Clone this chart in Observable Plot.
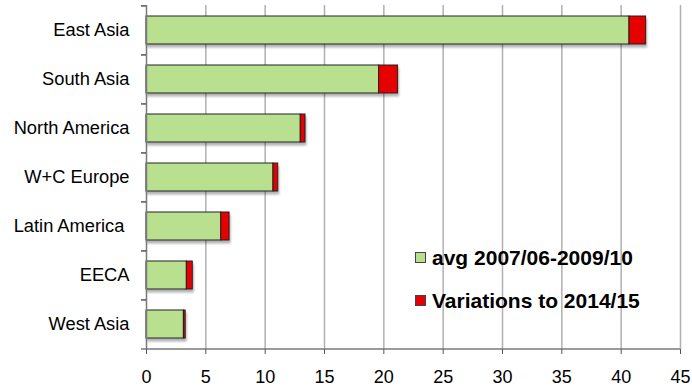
<!DOCTYPE html>
<html>
<head>
<meta charset="utf-8">
<script src="https://cdn.jsdelivr.net/npm/d3@7"></script>
<script src="https://cdn.jsdelivr.net/npm/@observablehq/plot@0.6"></script>
<style>
  body { margin: 0; background: #fff; font-family: "Liberation Sans", Arial, sans-serif; }
  #chart { position: relative; width: 692px; height: 392px; }
  #chart svg { white-space: pre; }
  .legend { position: absolute; left: 415px; top: 236px; font-weight: bold; font-size: 21px; color: #000; }
  .legend .item { display: flex; align-items: center; height: 43px; white-space: nowrap; }
  .legend .sw { width: 9px; height: 9px; border: 1px solid #444; margin-right: 6px; }
</style>
</head>
<body>
<div id="chart"></div>
<script>
// Regions, top to bottom
const regions = ["East Asia", "South Asia", "North America", "W+C Europe", "Latin America ", "EECA", "West Asia"];
// Average 2007/06-2009/10
const avg = [40.7, 19.6, 13.0, 10.7, 6.3, 3.4, 3.15];
// Variation to 2014/15, stacked on the average
const variation = [1.4, 1.6, 0.4, 0.4, 0.7, 0.5, 0.15];
// Series names and colours
const seriesNames = ["avg 2007/06-2009/10", "Variations to 2014/15"];
const seriesColors = ["#b9e08f", "#e60000"];
// X axis ticks
const xTicks = [0, 5, 10, 15, 20, 25, 30, 35, 40, 45];

const table = regions.flatMap((r, i) => [
  {region: r, series: seriesNames[0], value: avg[i]},
  {region: r, series: seriesNames[1], value: variation[i]}
]);

const width = 692, height = 392;
const margin = {top: 5, right: 12, bottom: 43, left: 146};
const bandStep = (height - margin.top - margin.bottom) / regions.length;
const gap = 0.43;

const chart = Plot.plot({
  width, height,
  marginTop: margin.top, marginRight: margin.right,
  marginBottom: margin.bottom, marginLeft: margin.left,
  style: {fontFamily: "Liberation Sans, Arial, sans-serif", fontSize: "18px", color: "#000", background: "#fff", overflow: "visible"},
  x: {domain: [0, 45], label: null},
  y: {domain: regions, paddingInner: gap, paddingOuter: gap / 2, label: null},
  color: {domain: seriesNames, range: seriesColors},
  marks: [
    // vertical gridlines
    Plot.ruleX(xTicks.filter(t => t > 0), {stroke: "#b0b0b0", strokeWidth: 1.5}),
    // stacked bars
    Plot.barX(table, {x: "value", y: "region", fill: "series", stroke: "#222", strokeWidth: 1}),
    // category axis line and boundary tick marks
    Plot.ruleX([0], {stroke: "#7a7a7a", strokeWidth: 1.5}),
    Plot.ruleY(regions, {y: d => d, dy: -bandStep / 2, x1: -0.42, x2: 0, stroke: "#555", strokeWidth: 1.5}),
    Plot.ruleY(regions.slice(-1), {y: d => d, dy: bandStep / 2, x1: -0.42, x2: 45, stroke: "#7a7a7a", strokeWidth: 1.5}),
    Plot.axisY({tickSize: 0, tickPadding: 17, fontSize: 18.3, label: null}),
    Plot.axisX({ticks: xTicks, tickSize: 5, tickPadding: 16, fontSize: 18, stroke: "#555", label: null})
  ]
});

// soft drop shadow under the bars
const ns = "http://www.w3.org/2000/svg";
const defs = document.createElementNS(ns, "defs");
defs.innerHTML = '<filter id="barShadow" x="-5%" y="-20%" width="115%" height="160%"><feDropShadow dx="1" dy="3" stdDeviation="1.2" flood-color="#000" flood-opacity="0.3"/></filter>';
chart.insertBefore(defs, chart.firstChild);
const barGroup = chart.querySelector('g[aria-label="bar"]');
if (barGroup) barGroup.setAttribute("filter", "url(#barShadow)");

const root = document.getElementById("chart");
root.appendChild(chart);

// legend inside the plot area
const legend = document.createElement("div");
legend.className = "legend";
seriesNames.forEach((name, i) => {
  const item = document.createElement("div");
  item.className = "item";
  const sw = document.createElement("span");
  sw.className = "sw";
  sw.style.background = seriesColors[i];
  const label = document.createElement("span");
  label.textContent = name;
  item.append(sw, label);
  legend.appendChild(item);
});
root.appendChild(legend);
</script>
</body>
</html>
